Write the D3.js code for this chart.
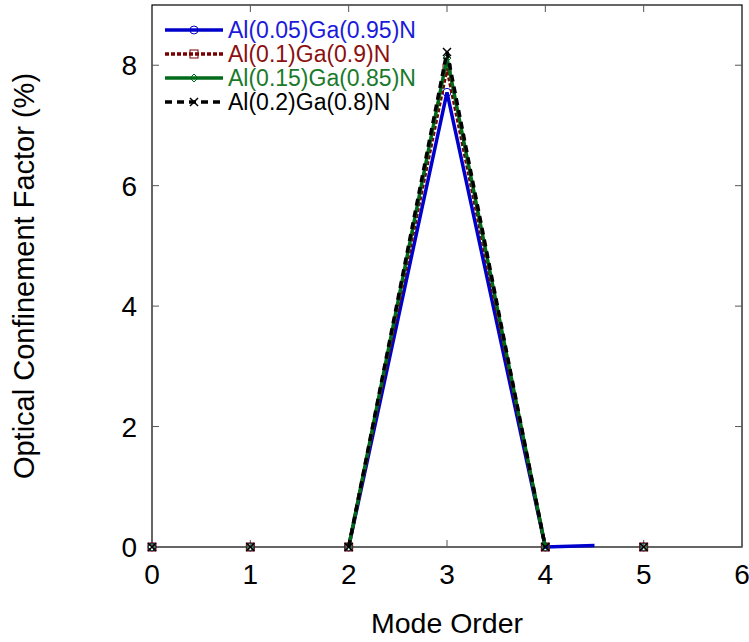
<!DOCTYPE html>
<html>
<head>
<meta charset="utf-8">
<script src="https://cdn.jsdelivr.net/npm/d3@7"></script>
<style>
  body { margin: 0; background: #fff; }
  svg { font-family: "Liberation Sans", Arial, sans-serif; }
</style>
</head>
<body>
<svg id="chart" width="749" height="642"></svg>
<script>
// mode order on the x axis
var modes = [0, 1, 2, 3, 4, 5];

// confinement factor (%) for each composition
var al005 = [0, 0, 0, 7.55, 0, 0];
var al010 = [0, 0, 0, 7.95, 0, 0];
var al015 = [0, 0, 0, 8.12, 0, 0];
var al020 = [0, 0, 0, 8.22, 0, 0];

// odd little tail on the blue curve after mode 4
var al005Tail = [{ mode: 4.5, value: 0.025 }];

var seriesNames = ["Al(0.05)Ga(0.95)N", "Al(0.1)Ga(0.9)N", "Al(0.15)Ga(0.85)N", "Al(0.2)Ga(0.8)N"];
var seriesValues = [al005, al010, al015, al020];
var xTicks = [0, 1, 2, 3, 4, 5, 6];
var yTicks = [0, 2, 4, 6, 8];

var lineColors = ["#0000cc", "#7a0000", "#006b1a", "#000000"];
var textColors = ["#1a1adb", "#8b1010", "#1a7a2a", "#000000"];
var dashes = [null, "4,2", null, "7,5"];
var markers = ["circle", "square", "diamond", "cross"];

var svg = d3.select("#chart");
var plotLeft = 152, plotRight = 742, plotTop = 5, plotBottom = 547;

var x = d3.scaleLinear().domain([0, 6]).range([plotLeft, plotRight]);
var y = d3.scaleLinear().domain([0, 9]).range([plotBottom, plotTop]);

// box
svg.append("rect")
    .attr("x", plotLeft).attr("y", plotTop)
    .attr("width", plotRight - plotLeft).attr("height", plotBottom - plotTop)
    .attr("fill", "none").attr("stroke", "#000").attr("stroke-width", 1.2);

// inward ticks on all four sides
var tickLen = 7;
xTicks.slice(1, -1).forEach(function (t) {
    svg.append("line").attr("x1", x(t)).attr("x2", x(t)).attr("y1", plotBottom).attr("y2", plotBottom - tickLen).attr("stroke", "#555");
    svg.append("line").attr("x1", x(t)).attr("x2", x(t)).attr("y1", plotTop).attr("y2", plotTop + tickLen).attr("stroke", "#555");
});
yTicks.slice(1).forEach(function (t) {
    svg.append("line").attr("x1", plotLeft).attr("x2", plotLeft + tickLen).attr("y1", y(t)).attr("y2", y(t)).attr("stroke", "#555");
    svg.append("line").attr("x1", plotRight).attr("x2", plotRight - tickLen).attr("y1", y(t)).attr("y2", y(t)).attr("stroke", "#555");
});
// zero line is grey
svg.append("line").attr("x1", plotLeft).attr("x2", plotRight).attr("y1", plotBottom).attr("y2", plotBottom)
    .attr("stroke", "#666").attr("stroke-width", 1.5);

// tick labels
svg.selectAll(".xlab").data(xTicks).enter().append("text")
    .attr("x", function (d) { return x(d); }).attr("y", 584)
    .attr("text-anchor", "middle").attr("font-size", 28).text(function (d) { return d; });
svg.selectAll(".ylab").data(yTicks).enter().append("text")
    .attr("x", 137).attr("y", function (d) { return y(d) + 10; })
    .attr("text-anchor", "end").attr("font-size", 28).text(function (d) { return d; });

// axis titles
svg.append("text").attr("x", (plotLeft + plotRight) / 2).attr("y", 633)
    .attr("text-anchor", "middle").attr("font-size", 28.5).text("Mode Order");
svg.append("text").attr("transform", "translate(34," + (plotTop + plotBottom) / 2 + ") rotate(-90)")
    .attr("text-anchor", "middle").attr("font-size", 29).text("Optical Confinement Factor (%)");

function drawMarker(g, type, cx, cy, color) {
    var s = 4;
    if (type === "circle") {
        g.append("circle").attr("cx", cx).attr("cy", cy).attr("r", s).attr("fill", "none").attr("stroke", color).attr("stroke-width", 1);
    } else if (type === "square") {
        g.append("rect").attr("x", cx - s).attr("y", cy - s).attr("width", 2 * s).attr("height", 2 * s)
            .attr("fill", "none").attr("stroke", color).attr("stroke-width", 1);
    } else if (type === "diamond") {
        g.append("path").attr("d", "M" + cx + "," + (cy - s) + "L" + (cx + s) + "," + cy + "L" + cx + "," + (cy + s) + "L" + (cx - s) + "," + cy + "Z")
            .attr("fill", "none").attr("stroke", color).attr("stroke-width", 1);
    } else {
        g.append("path").attr("d", "M" + (cx - s) + "," + (cy - s) + "L" + (cx + s) + "," + (cy + s) + "M" + (cx + s) + "," + (cy - s) + "L" + (cx - s) + "," + (cy + s))
            .attr("stroke", color).attr("stroke-width", 1.5);
    }
}

var line = d3.line()
    .x(function (d) { return x(d.mode); })
    .y(function (d) { return y(d.value); });

var plot = svg.append("g");

seriesValues.forEach(function (vals, i) {
    var pts = modes.map(function (m, j) { return { mode: m, value: vals[j] }; });
    // the curve is only drawn between modes 2 and 4
    var linePts = pts.filter(function (d) { return d.mode >= 2 && d.mode <= 4; });
    if (i === 0) linePts = linePts.concat(al005Tail);

    plot.append("path")
        .datum(linePts)
        .attr("d", line)
        .attr("fill", "none")
        .attr("stroke", lineColors[i])
        .attr("stroke-width", 3.5)
        .attr("stroke-dasharray", dashes[i]);

    pts.forEach(function (d) {
        drawMarker(plot, markers[i], x(d.mode), y(d.value), lineColors[i]);
    });
});

// legend
var legend = svg.append("g");
seriesNames.forEach(function (name, i) {
    var ly = 30 + i * 24;
    legend.append("line")
        .attr("x1", 165).attr("x2", 223).attr("y1", ly).attr("y2", ly)
        .attr("stroke", lineColors[i]).attr("stroke-width", 3.5)
        .attr("stroke-dasharray", dashes[i]);
    drawMarker(legend, markers[i], 194, ly, lineColors[i]);
    legend.append("text")
        .attr("x", 228).attr("y", ly + 8)
        .attr("font-size", 23)
        .attr("fill", textColors[i])
        .text(name);
});
</script>
</body>
</html>
